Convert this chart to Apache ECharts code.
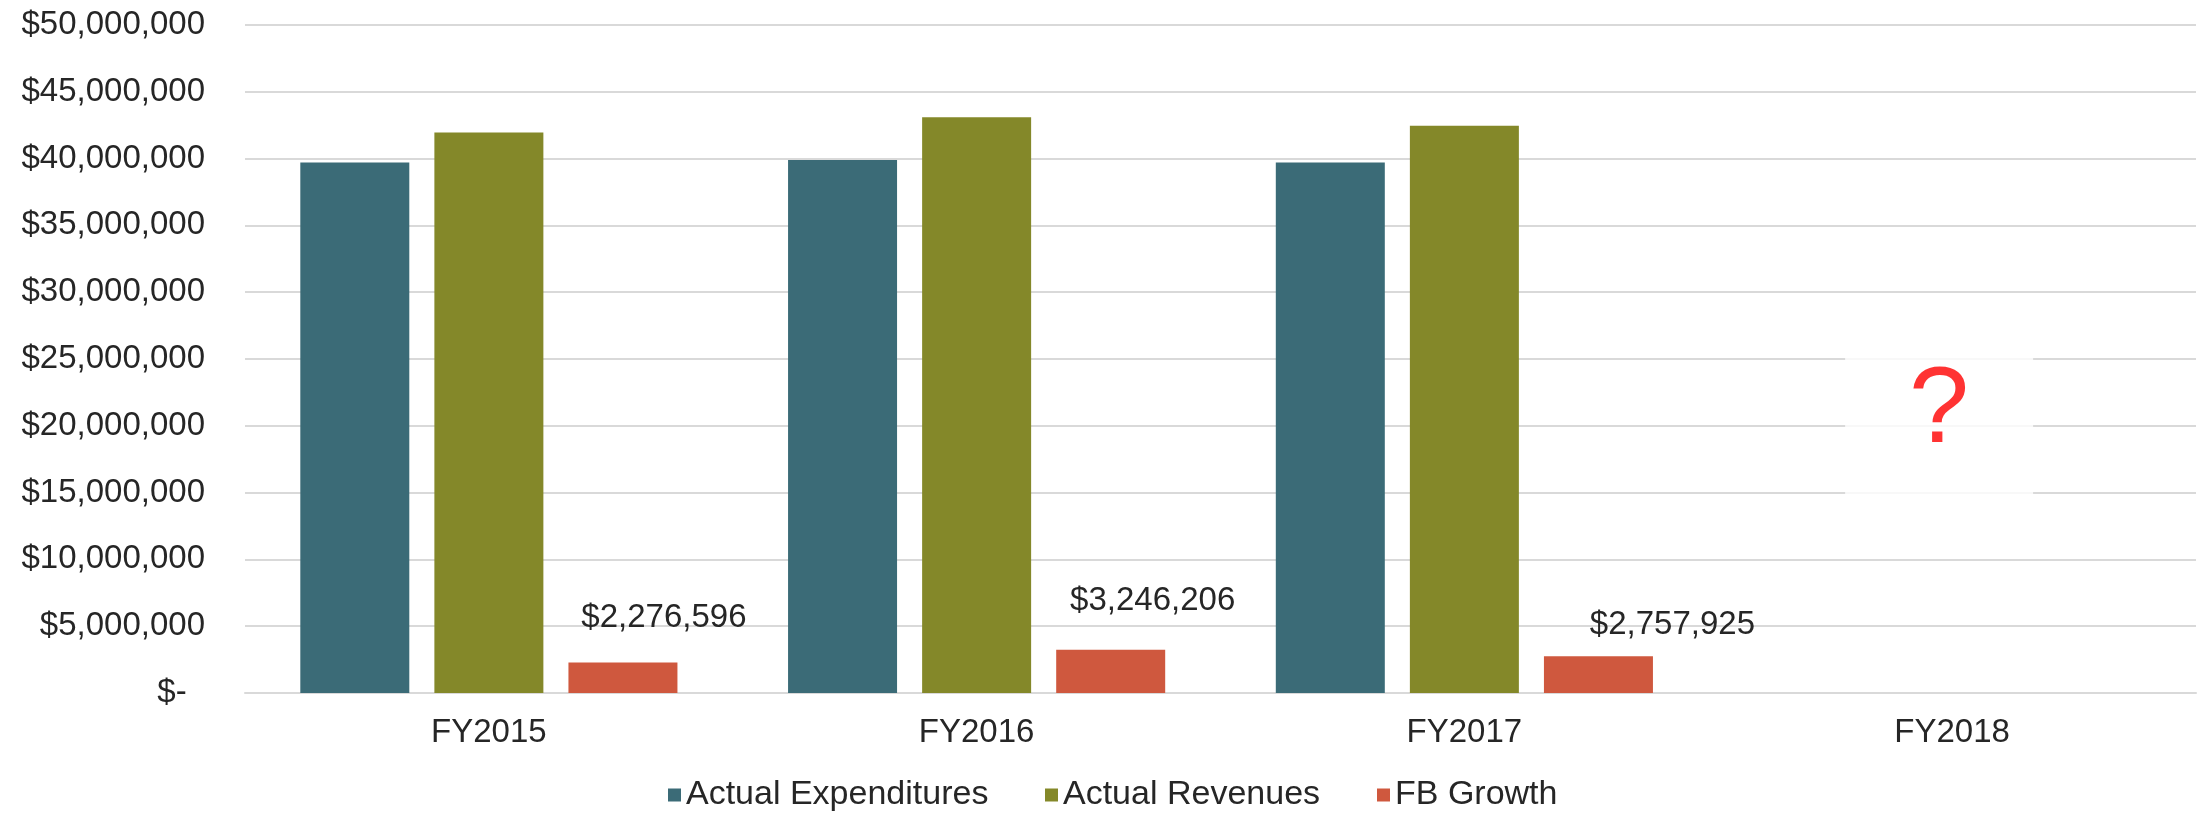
<!DOCTYPE html>
<html>
<head>
<meta charset="utf-8">
<title>Expenditures vs Revenues</title>
<script src="https://cdn.jsdelivr.net/npm/echarts@6/dist/echarts.min.js"></script>
<style>
    html, body { margin: 0; padding: 0; background: #fff; }
    #chart { width: 2203px; height: 815px; }
</style>
</head>
<body>
<div id="chart"></div>
<script>
    // data
    var years = ['FY2015', 'FY2016', 'FY2017', 'FY2018'];
    var expenditures = [39700000, 39900000, 39700000, null];
    var revenues = [41950000, 43100000, 42450000, null];
    var fbGrowth = [2276596, 3246206, 2757925, null];
    var seriesNames = ['Actual Expenditures', 'Actual Revenues', 'FB Growth'];
    var unknownYear = 'FY2018';
    var unknownMarkerValue = 21000000;

    var font = 'Liberation Sans, Arial, sans-serif';
    var textColor = '#262626';

    function money(v) {
        if (v === 0) return '$-  ';
        return '$' + v.toLocaleString('en-US');
    }

    // labels in the source are dragged by hand, so nudge each one
    var growthLabelOffsets = [[41, -23], [42, -27], [74, -10]];
    var growthData = fbGrowth.map(function (v, i) {
        if (v === null) return null;
        return {
            value: v,
            label: { offset: growthLabelOffsets[i] }
        };
    });

    // excel spaces the legend entries unevenly, one legend per entry
    var legendLefts = [668, 1045, 1377];
    var legends = seriesNames.map(function (name, i) {
        return {
            data: [name],
            left: legendLefts[i],
            top: 778,
            padding: 0,
            icon: 'rect',
            itemWidth: 13,
            itemHeight: 13,
            textStyle: { fontSize: 34, color: textColor, fontFamily: font }
        };
    });

    var myChart = echarts.init(document.getElementById('chart'));
    myChart.setOption({
        animation: false,
        textStyle: { fontFamily: font },
        grid: { left: 245, right: 7, top: 25, bottom: 122, containLabel: false },
        legend: legends,
        xAxis: {
            type: 'category',
            data: years,
            axisTick: { show: false },
            axisLine: { lineStyle: { color: '#d9d9d9', width: 2 } },
            axisLabel: { fontSize: 33, color: textColor, margin: 23, fontFamily: font }
        },
        yAxis: {
            type: 'value',
            min: 0,
            max: 50000000,
            interval: 5000000,
            axisLine: { show: false },
            axisTick: { show: false },
            axisLabel: { fontSize: 33, color: textColor, margin: 40, fontFamily: font, formatter: money },
            splitLine: { lineStyle: { color: '#d9d9d9', width: 2 } }
        },
        series: [
            {
                name: seriesNames[0],
                type: 'bar',
                data: expenditures,
                barWidth: 109,
                barGap: '23%',
                itemStyle: { color: '#3b6b77' }
            },
            {
                name: seriesNames[1],
                type: 'bar',
                data: revenues,
                barWidth: 109,
                barGap: '23%',
                itemStyle: { color: '#848829' }
            },
            {
                name: seriesNames[2],
                type: 'bar',
                data: growthData,
                barWidth: 109,
                barGap: '23%',
                itemStyle: { color: '#cf583e' },
                label: {
                    show: true,
                    position: 'top',
                    fontSize: 33,
                    color: textColor,
                    fontFamily: font,
                    formatter: function (p) { return money(p.value); }
                }
            },
            {
                // the "?" over the FY2018 slot
                name: 'unknown',
                type: 'scatter',
                silent: true,
                data: [[unknownYear, unknownMarkerValue]],
                symbol: 'rect',
                symbolSize: [188, 197],
                symbolOffset: [-13, 0],
                itemStyle: { color: '#ffffff' },
                label: {
                    show: true,
                    position: 'inside',
                    formatter: '?',
                    fontSize: 108,
                    color: '#ff0000',
                    fontFamily: font
                },
                z: 3
            }
        ]
    });
</script>
</body>
</html>
